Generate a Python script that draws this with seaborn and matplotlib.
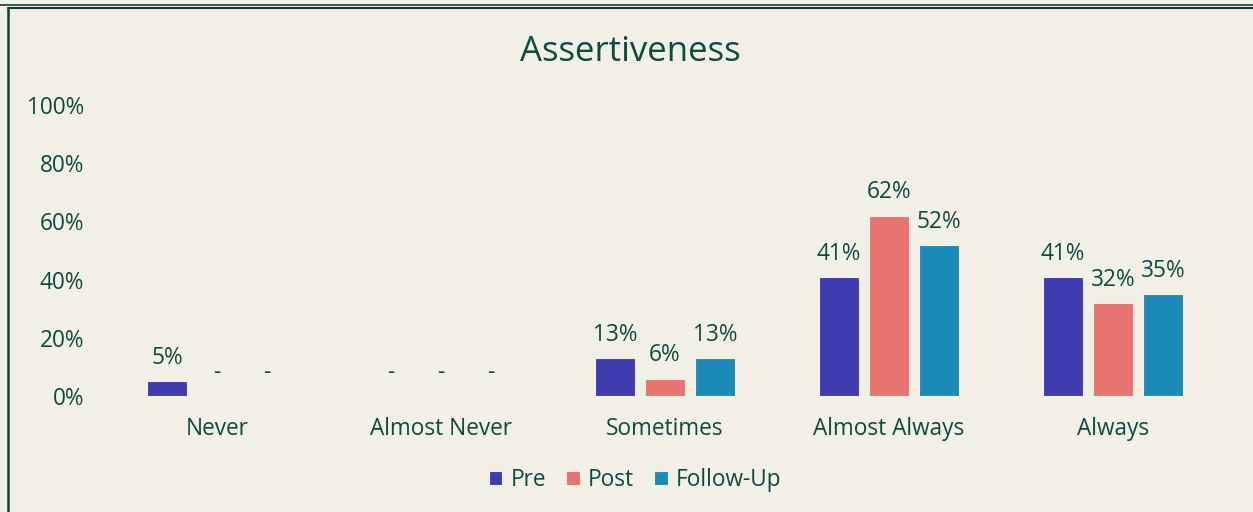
import pandas as pd
import numpy as np
import matplotlib
matplotlib.use("Agg")
import matplotlib.pyplot as plt
from matplotlib.lines import Line2D
import seaborn as sns

# chart values (percent)
responses = ["Never", "Almost Never", "Sometimes", "Almost Always", "Always"]
groups = ["Pre", "Post", "Follow-Up"]
pre = [5, 0, 13, 41, 41]
post = [0, 0, 6, 62, 32]
follow_up = [0, 0, 13, 52, 35]
y_ticks = [0, 20, 40, 60, 80, 100]

colors = {"Pre": "#3F3CAF", "Post": "#E57471", "Follow-Up": "#1A8BB8"}
bg = "#F2EFE7"
ink = "#0E4A3E"
frame = "#0F3F35"

df = pd.DataFrame({
    "response": responses * 3,
    "time": ["Pre"] * 5 + ["Post"] * 5 + ["Follow-Up"] * 5,
    "pct": pre + post + follow_up,
})

sns.set_theme(style="white")
plt.rcParams["font.family"] = ["Open Sans", "DejaVu Sans"]
fs = 16.3

fig = plt.figure(figsize=(12.53, 5.12), dpi=100, facecolor=bg)
ax = fig.add_axes([105 / 1253, 116 / 512, 1120 / 1253, 291 / 512])
ax.set_facecolor(bg)

sns.barplot(data=df, x="response", y="pct", hue="time", hue_order=groups,
            order=responses, palette=colors, saturation=1, width=0.67, gap=0.2,
            errorbar=None, edgecolor="#F7E9E6", linewidth=0.8, ax=ax)

for cont, g in zip(ax.containers, groups):
    vals = df[df["time"] == g]["pct"].tolist()
    labs = [f"{v}%" if v > 0 else "-" for v in vals]
    ax.bar_label(cont, labels=labs, padding=8, fontsize=fs, color=ink)

ax.set_ylim(0, 100)
ax.set_xlim(-0.5, 4.5)
ax.set_yticks(y_ticks)
ax.set_yticklabels([f"{t}%" for t in y_ticks])
ax.tick_params(axis="y", length=0, pad=15, labelsize=fs, labelcolor=ink)
ax.tick_params(axis="x", length=0, pad=15, labelsize=fs, labelcolor=ink)
ax.set_xlabel("")
ax.set_ylabel("")
for s in ax.spines.values():
    s.set_visible(False)

fig.text(630 / 1253, 1 - 52 / 512, "Assertiveness", ha="center", va="center",
         fontsize=25, color=ink)

handles, labels = ax.get_legend_handles_labels()
ax.legend(handles, labels, loc="center", bbox_to_anchor=(635 / 1253, 1 - 480 / 512),
          bbox_transform=fig.transFigure, ncol=3, frameon=False, fontsize=fs,
          labelcolor=ink, handlelength=0.6, handleheight=0.6, handletextpad=0.35,
          columnspacing=0.9)

# outer frame of the screenshot
fig.add_artist(Line2D([0, 1], [1 - 4.5 / 512] * 2, transform=fig.transFigure, color=frame, lw=1.2))
fig.add_artist(Line2D([7.5 / 1253, 1], [1 - 7.5 / 512] * 2, transform=fig.transFigure, color=frame, lw=1.5))
fig.add_artist(Line2D([7.5 / 1253] * 2, [0, 1 - 7.5 / 512], transform=fig.transFigure, color=frame, lw=1.8))

fig.savefig("out.png", dpi=100, facecolor=bg)
